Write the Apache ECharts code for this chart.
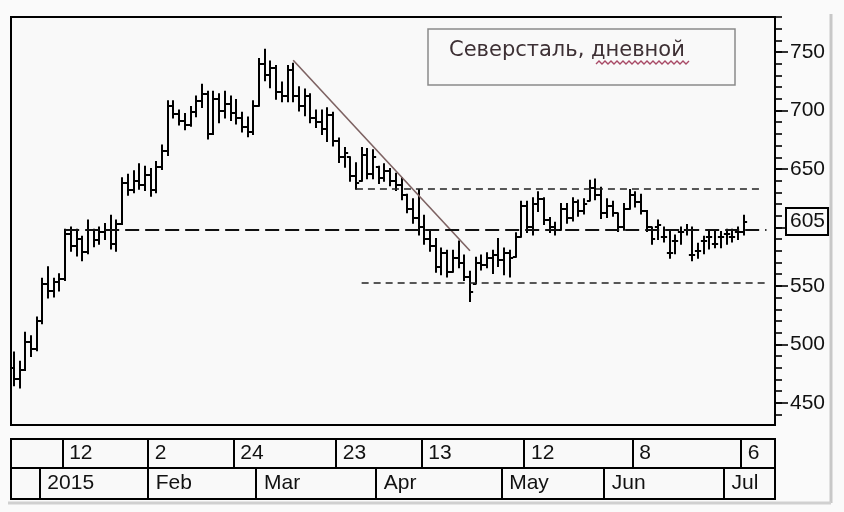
<!DOCTYPE html>
<html>
<head>
<meta charset="utf-8">
<script src="https://cdn.jsdelivr.net/npm/echarts@6/dist/echarts.min.js"></script>
<style>
html,body{margin:0;padding:0;background:#fafafa;}
#c{width:844px;height:512px;}
</style>
</head>
<body>
<div id="c"></div>
<script>
// Trading days (Dec 2014 – Jul 2015)
const dec14 = [24,25,26,29,30];
const jan15 = [5,6,8,9,12,13,14,15,16,19,20,21,22,23,26,27,28,29,30];
const feb15 = [2,3,4,5,6,9,10,11,12,13,16,17,18,19,20,24,25,26,27];
const mar15 = [2,3,4,5,6,10,11,12,13,16,17,18,19,20,23,24,25,26,27,30,31];
const apr15 = [1,2,3,6,7,8,9,10,13,14,15,16,17,20,21,22,23,24,27,28,29,30];
const may15 = [5,6,7,8,12,13,14,15,18,19,20,21,22,25,26,27,28,29];
const jun15 = [1,2,3,4,5,8,9,10,11,15,16,17,18,19,22,23,24,25,26,29,30];
const jul15 = [1,2,3,6,7,8,9,10,13];

// OHLC values
const openV = [480,470,478,502,496,520,552,546,553,556,
594,584,590,579,598,589,596,598,586,603,
638,632,640,636,645,632,652,665,704,697,
691,688,699,708,714,680,710,700,706,698,
694,686,682,704,740,730,736,716,712,735,
712,704,712,694,690,684,696,674,660,660,
644,640,662,646,652,642,648,640,636,628,
616,608,600,590,584,566,578,562,574,570,
558,552,570,568,574,576,572,578,575,592,
618,600,620,624,606,600,598,616,608,622,
614,623,634,628,612,618,612,600,616,628,
622,614,600,600,592,578,588,596,598,576,
580,588,592,586,592,594,592,596,596];
const highV = [493,485,510,507,523,556,566,556,560,598,
600,598,592,606,598,600,603,610,606,642,
645,648,654,652,650,656,670,708,708,700,
697,703,712,722,716,716,714,716,712,709,
698,694,708,744,752,742,738,724,738,740,
720,718,714,700,700,702,698,676,668,660,
655,668,667,666,652,654,650,646,642,628,
624,632,610,596,590,582,580,580,588,576,
562,574,576,578,580,590,582,580,595,622,
622,625,630,625,608,604,620,620,625,623,
624,640,641,634,624,622,612,620,632,630,
628,614,600,606,600,596,593,600,602,600,
586,592,596,596,596,598,598,600,610];
const lowV = [465,463,478,490,495,518,540,541,546,555,
580,576,572,578,584,586,590,582,580,603,
628,630,633,632,627,630,650,662,694,688,
684,687,695,703,676,680,690,694,692,689,
682,678,680,704,726,720,710,708,708,708,
700,696,690,686,680,674,670,656,652,640,
633,640,642,642,638,640,636,632,624,613,
604,594,586,580,562,560,558,562,566,555,
537,552,564,566,561,567,560,558,575,592,
596,594,614,603,596,594,598,604,606,610,
612,623,624,608,609,610,597,598,616,618,
612,597,586,590,588,574,578,586,594,572,
574,578,582,583,583,586,588,590,594];
const closeV = [470,478,502,496,520,552,546,553,556,594,
584,590,579,598,589,596,598,586,603,638,
632,640,636,645,632,652,665,704,697,691,
688,699,708,714,680,710,700,706,698,694,
686,682,704,740,730,736,716,712,735,712,
704,712,694,690,684,696,674,660,664,644,
638,662,646,660,642,648,640,636,628,616,
608,600,590,584,566,578,562,574,570,558,
545,570,568,574,576,572,578,574,592,618,
600,620,624,606,600,598,616,608,622,614,
620,634,628,612,618,612,600,616,628,622,
614,600,590,602,592,578,588,596,598,576,
580,588,592,586,592,594,592,596,605];

// Axis tick / label values
const minorTicks = [440,450,460,470,480,490,500,510,520,530,540,550,560,570,580,590,600,610,620,630,640,650,660,670,680,690,700,710,720,730,740,750,760,770,780];
const majorTicks = [450,500,550,600,650,700,750];
const priceLabels = [450,500,550,650,700,750];
const lastPrice = 605;

// Date axis labels
const weekDates = ['2015-01-12','2015-02-02','2015-02-24','2015-03-23','2015-04-13','2015-05-12','2015-06-08','2015-07-06'];
const weekLabels = ['12','2','24','23','13','12','8','6'];
const monthDates = ['2015-01-05','2015-02-02','2015-03-02','2015-04-01','2015-05-05','2015-06-01','2015-07-01'];
const monthLabels = ['2015','Feb','Mar','Apr','May','Jun','Jul'];

// Drawn levels and trend line
const levelValues = [598, 633, 553];
const levelStart = [9, 60, 61];
const levelEnd = [132, 131, 132];
const trendStart = [49, 743];
const trendEnd = [80, 580];

function pad(n){return (n<10?'0':'')+n;}
const categories = [];
dec14.forEach(d=>categories.push('2014-12-'+pad(d)));
[[jan15,1],[feb15,2],[mar15,3],[apr15,4],[may15,5],[jun15,6],[jul15,7]].forEach(([arr,m])=>{
  arr.forEach(d=>categories.push('2015-'+pad(m)+'-'+pad(d)));
});

const ohlc = openV.map((o,i)=>[i, o, closeV[i], lowV[i], highV[i]]);

const FONT = 'Liberation Sans, Arial, sans-serif';
const chart = echarts.init(document.getElementById('c'), null, {renderer:'canvas'});

function renderBar(params, api){
  const x = api.value(0);
  const o = api.coord([x, api.value(1)]);
  const c = api.coord([x, api.value(2)]);
  const l = api.coord([x, api.value(3)]);
  const h = api.coord([x, api.value(4)]);
  const w = api.size([1,0])[0]*0.55;
  const cx = Math.round(o[0]);
  const st = {stroke:'#000', lineWidth:2};
  return {type:'group', children:[
    {type:'line', shape:{x1:cx, y1:h[1]-1, x2:cx, y2:l[1]+1}, style:st},
    {type:'line', shape:{x1:cx-w, y1:Math.round(o[1]), x2:cx, y2:Math.round(o[1])}, style:st},
    {type:'line', shape:{x1:cx, y1:Math.round(c[1]), x2:cx+w, y2:Math.round(c[1])}, style:st}
  ]};
}

const levelStyles = [
  {type:[14,6], width:2, color:'#111'},
  {type:[7,5], width:1.6, color:'#222'},
  {type:[7,5], width:1.6, color:'#222'}
];
const levelLines = levelValues.map((v,k)=>[
  {coord:[levelStart[k], v], lineStyle:levelStyles[k], label:{show:false}},
  {coord:[levelEnd[k], v]}
]);

const squiggle = [];
for (let xx=596, k=0; xx<=689; xx+=3, k++) squiggle.push([xx, k%2 ? 61 : 64]);

const option = {
  animation:false,
  backgroundColor:'#fafafa',
  grid:[
    {left:11, top:17, width:764, height:408, show:true, borderColor:'#000', borderWidth:2, backgroundColor:'#f9f9f9'},
    {left:11, top:439, width:764, height:29, show:true, borderColor:'#000', borderWidth:2, backgroundColor:'#f9f9f9'},
    {left:11, top:468, width:764, height:31, show:true, borderColor:'#000', borderWidth:2, backgroundColor:'#f9f9f9'}
  ],
  xAxis:[
    {type:'category', gridIndex:0, data:categories, boundaryGap:true,
     axisLine:{show:false}, axisTick:{show:false}, axisLabel:{show:false}, splitLine:{show:false}},
    {type:'category', gridIndex:1, data:categories, boundaryGap:true,
     axisLine:{show:false}, axisTick:{show:false},
     splitLine:{show:true, interval:(i,v)=>weekDates.indexOf(categories[i])>=0, lineStyle:{color:'#000', width:2}},
     axisLabel:{show:true, inside:true, margin:15, verticalAlign:'middle', align:'left', padding:[0,0,0,4],
       interval:(i,v)=>weekDates.indexOf(v)>=0,
       formatter:(v)=>{const k=weekDates.indexOf(v);return k>=0?weekLabels[k]:'';},
       fontFamily:FONT, fontSize:21, color:'#111'}},
    {type:'category', gridIndex:2, data:categories, boundaryGap:true,
     axisLine:{show:false}, axisTick:{show:false},
     splitLine:{show:true, interval:(i,v)=>monthDates.indexOf(categories[i])>=0, lineStyle:{color:'#000', width:2}},
     axisLabel:{show:true, inside:true, margin:15.5, verticalAlign:'middle', align:'left', padding:[0,0,0,5],
       interval:(i,v)=>monthDates.indexOf(v)>=0,
       formatter:(v)=>{const k=monthDates.indexOf(v);return k>=0?monthLabels[k]:'';},
       fontFamily:FONT, fontSize:21, color:'#111'}}
  ],
  yAxis:[
    {type:'value', gridIndex:0, position:'right', min:431, max:780,
     axisLine:{show:false}, splitLine:{show:false},
     axisTick:{show:true, length:7, customValues:minorTicks, lineStyle:{color:'#000', width:1.6}},
     axisLabel:{show:false}},
    {type:'value', gridIndex:0, position:'right', min:431, max:780,
     axisLine:{show:false}, splitLine:{show:false},
     axisTick:{show:true, length:13, customValues:majorTicks, lineStyle:{color:'#000', width:1.6}},
     axisLabel:{show:true, customValues:priceLabels, margin:15, fontFamily:FONT, fontSize:21, color:'#111'}},
    {type:'value', gridIndex:1, show:false},
    {type:'value', gridIndex:2, show:false}
  ],
  series:[
    {type:'custom', xAxisIndex:0, yAxisIndex:0, renderItem:renderBar, data:ohlc,
     encode:{x:0, y:[1,2,3,4]}, silent:true, z:3},
    {type:'line', xAxisIndex:0, yAxisIndex:0, data:[trendStart, trendEnd], symbol:'none', silent:true, z:4,
     clip:false,
     lineStyle:{color:'#7d6262', width:1.6},
     markLine:{silent:true, symbol:['none','none'], animation:false,
       data:[
         {yAxis:lastPrice, lineStyle:{color:'rgba(0,0,0,0)', width:0},
          label:{show:true, position:'end', distance:12, formatter:String(lastPrice),
                 fontFamily:FONT, fontSize:21, color:'#111', borderColor:'#000', borderWidth:2,
                 padding:[3,2,1,3], backgroundColor:'#fafafa'}}
       ].concat(levelLines)}}
  ],
  graphic:[
    {type:'rect', shape:{x:428, y:29, width:307, height:56}, style:{fill:'none', stroke:'#8a8a8a', lineWidth:1.5}, silent:true},
    {type:'text', x:449, y:51, style:{text:'Северсталь, дневной', font:'21px "DejaVu Sans", sans-serif', fill:'#3d3034', textVerticalAlign:'middle'}, silent:true},
    {type:'polyline', shape:{points:squiggle}, style:{stroke:'#a84a66', lineWidth:1.4, fill:'none'}, silent:true},
    {type:'line', shape:{x1:831, y1:14, x2:831, y2:503}, style:{stroke:'#c8c8c8', lineWidth:3}, silent:true},
    {type:'line', shape:{x1:8, y1:503, x2:831, y2:503}, style:{stroke:'#d0d0d0', lineWidth:3}, silent:true}
  ]
};
chart.setOption(option);
</script>
</body>
</html>
